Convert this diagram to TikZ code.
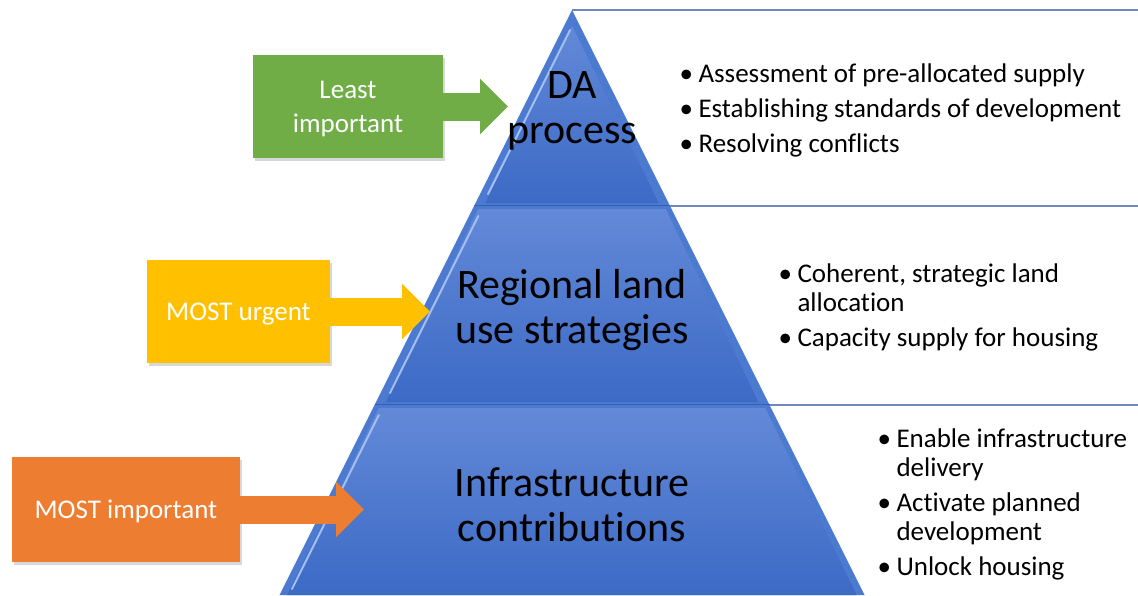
\documentclass[tikz,border=0pt]{standalone}
\usepackage{fontspec}
\setmainfont{Carlito}[Ligatures=NoCommon]
\usetikzlibrary{calc,arrows.meta,shadows,positioning}

\definecolor{tierface}{HTML}{3C6AC5}
\definecolor{tiertop}{HTML}{6389D8}
\definecolor{tierbevel}{HTML}{4C7AD0}
\definecolor{tierlight}{HTML}{A3BFF2}
\definecolor{tierdark}{HTML}{3560B2}
\definecolor{tierline}{HTML}{6F87BC}
\definecolor{leastgreen}{HTML}{70AD47}
\definecolor{urgentyellow}{HTML}{FFC000}
\definecolor{mostorange}{HTML}{ED7D31}

\newcommand{\bl}{\makebox[19pt][l]{\textbullet}}
\newcommand{\ind}{\hspace*{19pt}}

\begin{document}
\begin{tikzpicture}[x=1pt,y=-1pt,
  labelbox/.style={rectangle, text=white, align=center, text depth=0pt,
    font=\fontsize{27}{34}\selectfont,
    drop shadow={shadow xshift=2pt,shadow yshift=-3pt,opacity=.3}},
  blockarrow/.style={line width=28pt,-{Triangle[length=28pt,width=54pt]}},
  tiertext/.style={align=center,font=\fontsize{42}{45}\selectfont},
  listtext/.style={align=left,anchor=west,font=\fontsize{27}{29}\selectfont},
  tierrule/.style={draw=tierline,line width=1.6pt}]
  \useasboundingbox[fill=white] (0,0) rectangle (1138,595);

  \coordinate(apex) at (572,10);
  \coordinate(l1) at (474,206);
  \coordinate(r1) at (670,206);
  \coordinate(l2) at (374.5,405);
  \coordinate(r2) at (769.5,405);
  \coordinate(l3) at (279.5,595);
  \coordinate(r3) at (864.5,595);

  \draw[tierrule](apex)--(1138,10);
  \draw[tierrule](r1)--(1138,206);
  \draw[tierrule](r2)--(1138,405);

  % pyramid tiers
  \fill[tierbevel](apex)--(r1)--(l1)--cycle;
  \shade[top color=tiertop,bottom color=tierface](572,25.7)--(658.7,203)--(485.3,203)--cycle;
  \draw[tierlight,line width=2pt,line cap=round](570,30)--(488,194);
  \draw[tierdark,line width=1.5pt](l1)--(r1);

  \fill[tierbevel](l1)--(r1)--(r2)--(l2)--cycle;
  \shade[top color=tiertop,bottom color=tierface](478.3,209)--(665.7,209)--(758.2,402)--(385.8,402)--cycle;
  \draw[tierlight,line width=2pt,line cap=round](478.3,216)--(390,393);
  \draw[tierdark,line width=1.5pt](l2)--(r2);

  \fill[tierbevel](l2)--(r2)--(r3)--(l3)--cycle;
  \shade[top color=tiertop,bottom color=tierface](378.8,408)--(765.2,408)--(856.7,595)--(287.3,595)--cycle;
  \draw[tierlight,line width=2pt,line cap=round](378.8,415)--(292,589);

  \node[tiertext](da) at (572,111) {DA\\process};
  \node[tiertext](regional) at (572,310) {Regional land\\use strategies};
  \node[tiertext](infra) at (572,505) {Infrastructure\\contributions};

  % priority boxes
  \node[labelbox,fill=leastgreen,minimum width=190pt,minimum height=103pt](least) at (348,106.5) {Least\\important};
  \node[labelbox,fill=urgentyellow,minimum width=183pt,minimum height=103pt](urgent) at (238.5,311.5) {MOST urgent};
  \node[labelbox,fill=mostorange,minimum width=228pt,minimum height=105pt](most) at (126,509.5) {MOST important};

  \coordinate(tipleast) at (508,106.5);
  \coordinate(tipurgent) at (430,311.5);
  \coordinate(tipmost) at (364,509.5);
  \draw[blockarrow,leastgreen](least.east)--(tipleast);
  \draw[blockarrow,urgentyellow](urgent.east)--(tipurgent);
  \draw[blockarrow,mostorange](most.east)--(tipmost);

  % outcomes of each tier
  \node[listtext](listda) at (676,110.5) {\bl Assessment of pre-allocated supply\\[6pt]
    \bl Establishing standards of development\\[6pt]
    \bl Resolving conflicts};
  \node[listtext](listregional) at (775,307) {\bl Coherent, strategic land\\
    \ind allocation\\[6pt]
    \bl Capacity supply for housing};
  \node[listtext](listinfra) at (874,504.5) {\bl Enable infrastructure\\
    \ind delivery\\[6pt]
    \bl Activate planned\\
    \ind development\\[6pt]
    \bl Unlock housing};
\end{tikzpicture}
\end{document}
